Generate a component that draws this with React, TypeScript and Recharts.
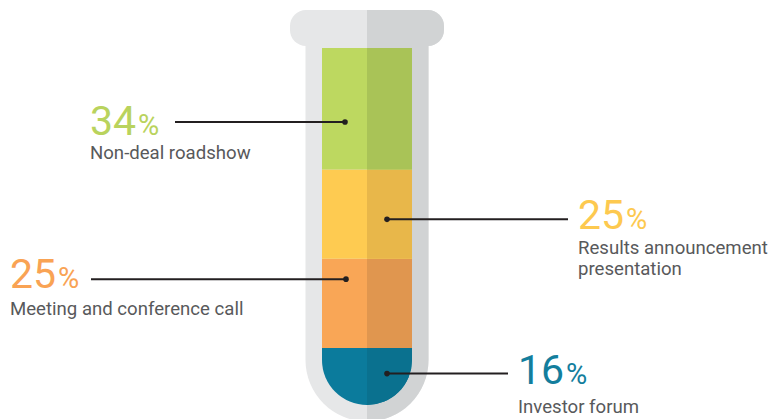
import { BarChart, Bar, XAxis, YAxis, LabelList } from "recharts";

// data (share of IR activities, %)
const CATEGORY = "IR activities";
const SERIES_KEYS = ["forum", "meeting", "results", "roadshow"];
const SERIES_NAMES = [
  "Investor forum",
  "Meeting and conference call",
  "Results announcement presentation",
  "Non-deal roadshow",
];
const SERIES_VALUES = [16, 25, 25, 34];

const LIGHT = ["#0b7b9c", "#f9a656", "#fecb51", "#bdd860"];
const DARK = ["#0a718f", "#e0964f", "#e8b74a", "#a9c357"];
const NUM_COLOR = ["#137e9d", "#f9a354", "#fdc94f", "#b9d35d"];
const TUBE_LIGHT = "#e6e7e8";
const TUBE_DARK = "#d1d3d4";
const INK = "#231f20";
const TEXT = "#58595b";
const FONT = "Roboto, 'DejaVu Sans', sans-serif";

// leader line / label placement, relative to the bar's left edge
const LAYOUT = [
  { frac: 0.45, dot: 65, end: 186, text: 196, numDy: 10, labelDy: 29, wrap: 0 },
  { frac: 0.23, dot: 24, end: -231, text: -312, numDy: 9, labelDy: 27, wrap: 0 },
  { frac: 0.56, dot: 65, end: 246, text: 256, numDy: 10, labelDy: 25, wrap: 2 },
  { frac: 0.61, dot: 23, end: -147, text: -232, numDy: 13, labelDy: 24, wrap: 0 },
];

const data = [
  SERIES_KEYS.reduce(
    (row, k, i) => ({ ...row, [k]: SERIES_VALUES[i] }),
    { name: CATEGORY } as Record<string, string | number>
  ),
];

function Tube(props: any) {
  const { x, y, width, height } = props;
  const cx = x + width / 2;
  const L = x - 16.5;
  const R = x + width + 16.5;
  const r = (R - L) / 2;
  const cy = y + height - width / 2;
  const body = `M${L},${y - 6} H${R} V${cy} A${r},${r} 0 0 1 ${L},${cy} Z`;
  const cap = { x: x - 32, y: y - 38, width: width + 64, height: 36, rx: 16 };
  return (
    <g>
      <defs>
        <clipPath id="tube-right">
          <rect x={cx} y={0} width={400} height={500} />
        </clipPath>
      </defs>
      <path d={body} fill={TUBE_LIGHT} />
      <path d={body} fill={TUBE_DARK} clipPath="url(#tube-right)" />
      <rect {...cap} fill={TUBE_LIGHT} />
      <rect {...cap} fill={TUBE_DARK} clipPath="url(#tube-right)" />
    </g>
  );
}

function Segment(props: any) {
  const { x, y, width, height, idx } = props;
  const cx = x + width / 2;
  let d = `M${x},${y} h${width} v${height} h${-width} Z`;
  if (idx === 0) {
    const r = width / 2;
    const yb = y + height;
    d = `M${x},${y} H${x + width} V${yb - r} A${r},${r} 0 0 1 ${x},${yb - r} Z`;
  }
  const id = `seg-${idx}`;
  return (
    <g>
      <defs>
        <clipPath id={id}>
          <rect x={cx} y={y - 1} width={width} height={height + 2} />
        </clipPath>
      </defs>
      <path d={d} fill={LIGHT[idx]} />
      <path d={d} fill={DARK[idx]} clipPath={`url(#${id})`} />
    </g>
  );
}

function wrapName(name: string, words: number) {
  if (!words) return [name];
  const w = name.split(" ");
  return [w.slice(0, words).join(" "), w.slice(words).join(" ")];
}

function Callout(props: any, idx: number) {
  const vb = props.viewBox ?? props;
  const { x, y, height } = vb;
  const lay = LAYOUT[idx];
  const ly = y + height * lay.frac;
  const tx = x + lay.text;
  const nb = ly + lay.numDy;
  const lines = wrapName(SERIES_NAMES[idx], lay.wrap);
  return (
    <g>
      <line x1={x + lay.dot} y1={ly} x2={x + lay.end} y2={ly} stroke={INK} strokeWidth={2} />
      <circle cx={x + lay.dot} cy={ly} r={2.8} fill={INK} />
      <text x={tx} y={nb} fill={NUM_COLOR[idx]} fontFamily={FONT} fontSize={41}>
        {SERIES_VALUES[idx]}
        <tspan fontSize={29} dx={2}>%</tspan>
      </text>
      {lines.map((t, i) => (
        <text key={i} x={tx} y={nb + lay.labelDy + i * 21} fill={TEXT} fontFamily={FONT} fontSize={18.6}>
          {t}
        </text>
      ))}
    </g>
  );
}

export default function App() {
  return (
    <div style={{ position: "absolute", left: 0, top: 0, background: "#fff" }}>
      <BarChart
        width={771}
        height={419}
        data={data}
        margin={{ top: 48, bottom: 14, left: 322, right: 359 }}
        barCategoryGap={0}
      >
        <XAxis dataKey="name" hide />
        <YAxis hide domain={[0, 100]} />
        {SERIES_KEYS.map((k, i) => (
          <Bar
            key={k}
            dataKey={k}
            stackId="tube"
            isAnimationActive={false}
            background={i === 0 ? (p: any) => <Tube {...p} /> : undefined}
            shape={(p: any) => <Segment {...p} idx={i} />}
          >
            <LabelList dataKey={k} content={(p: any) => Callout(p, i)} />
          </Bar>
        ))}
      </BarChart>
    </div>
  );
}
